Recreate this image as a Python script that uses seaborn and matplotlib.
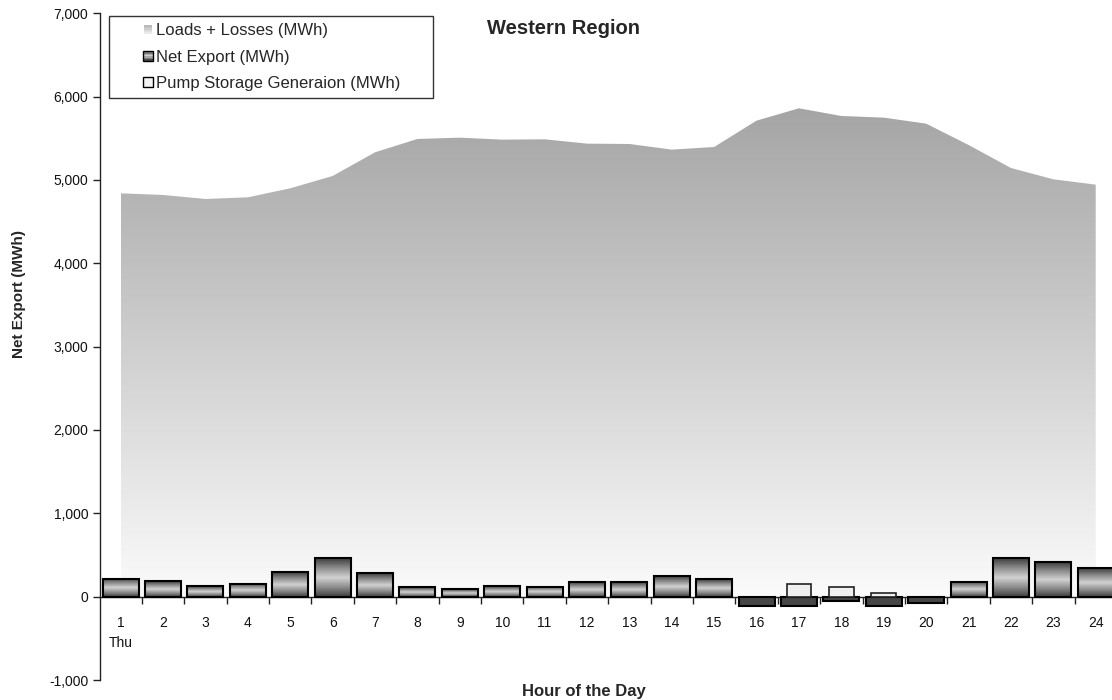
import numpy as np
import pandas as pd
import matplotlib
matplotlib.use("Agg")
import matplotlib.pyplot as plt
import seaborn as sns
from matplotlib.colors import LinearSegmentedColormap
from matplotlib.patches import Rectangle, Patch, Polygon
from matplotlib.legend_handler import HandlerBase
from matplotlib.ticker import FuncFormatter

# Hourly data, Western Region
hours = ["1", "2", "3", "4", "5", "6", "7", "8", "9", "10", "11", "12",
         "13", "14", "15", "16", "17", "18", "19", "20", "21", "22", "23", "24"]
loads_losses = [4840, 4820, 4772, 4792, 4900, 5048, 5332, 5492, 5508, 5484, 5488, 5436,
                5432, 5364, 5396, 5712, 5860, 5768, 5748, 5676, 5420, 5144, 5008, 4944]
net_export = [216, 188, 128, 156, 292, 464, 280, 112, 92, 124, 120, 176,
              172, 244, 212, -112, -112, -52, -112, -76, 180, 460, 416, 340]
pump_storage = [0, 0, 0, 0, 0, 0, 0, 0, 0, 0, 0, 0,
                0, 0, 0, 0, 156, 116, 40, 0, 0, 0, 0, 0]
y_ticks = [-1000, 0, 1000, 2000, 3000, 4000, 5000, 6000, 7000]
day_name = "Thu"

sns.set_theme(style="ticks")
plt.rcParams["font.family"] = ["Liberation Sans", "DejaVu Sans"]

df = pd.DataFrame({"hour": hours, "load": loads_losses,
                   "net": net_export, "pump": pump_storage})

fig = plt.figure(figsize=(11.12, 7.0), dpi=100)
ax = fig.add_axes([99.5 / 1112, 20 / 700, 1017.4 / 1112, 666.7 / 700])

area_cmap = LinearSegmentedColormap.from_list("area", ["#fbfbfb", "#a5a5a5"])
bar_cmap = LinearSegmentedColormap.from_list(
    "bar", ["#3c3c3c", "#8c8c8c", "#d2d2d2", "#8c8c8c", "#3c3c3c"])

# Loads + Losses area with a vertical grey gradient
xpos = np.arange(len(hours))
verts = [(xpos[0], 0)] + list(zip(xpos, df["load"])) + [(xpos[-1], 0)]
area = Polygon(verts, closed=True, facecolor="none", edgecolor="none", zorder=1)
ax.add_patch(area)
grad = np.linspace(0, 1, 256).reshape(-1, 1)
im = ax.imshow(grad, extent=(xpos[0], xpos[-1], 0, max(loads_losses)), origin="lower",
               cmap=area_cmap, aspect="auto", zorder=1, interpolation="bilinear")
im.set_clip_path(area)

# Net export bars
sns.barplot(data=df, x="hour", y="net", width=0.85, color="#464646", saturation=1,
            edgecolor="black", linewidth=1.5, errorbar=None, ax=ax, zorder=3)
for rect in ax.containers[0]:
    h = rect.get_height()
    if h > 0:
        x0 = rect.get_x()
        w = rect.get_width()
        rect.set_facecolor("none")
        bim = ax.imshow(grad, extent=(x0, x0 + w, 0, h), origin="lower", cmap=bar_cmap,
                        aspect="auto", zorder=2.9, interpolation="bilinear")
        bim.set_clip_path(rect)

# Pump storage generation bars
sns.barplot(data=df, x="hour", y="pump", width=0.58, color="#f0f0f0", saturation=1,
            edgecolor="#222222", linewidth=1.2, errorbar=None, ax=ax, zorder=4)
for rect in ax.containers[1]:
    if rect.get_height() == 0:
        rect.set_visible(False)

ax.set_xlim(-0.5, len(hours) - 0.5)
ax.set_ylim(y_ticks[0], y_ticks[-1])
ax.set_xlabel("")
ax.set_ylabel("")

# Axes styling
sns.despine(ax=ax)
ax.spines["bottom"].set_position(("data", 0))
for side in ("left", "bottom"):
    ax.spines[side].set_linewidth(1.0)
    ax.spines[side].set_color("#222222")

xlabels = list(hours)
xlabels[0] = hours[0] + "\n" + day_name
ax.set_xticks(xpos)
ax.set_xticklabels(xlabels, linespacing=1.5)
ax.set_xticks(xpos[:-1] + 0.5, minor=True)
ax.tick_params(axis="x", which="major", length=0, pad=14, labelsize=10, colors="#111111")
ax.tick_params(axis="x", which="minor", bottom=True, length=5, width=1, direction="out",
               color="#222222")
ax.set_yticks(y_ticks)
ax.yaxis.set_major_formatter(FuncFormatter(lambda v, p: f"{v:,.0f}"))
ax.tick_params(axis="y", left=True, length=5, width=1, direction="out", pad=3,
               labelsize=10, colors="#222222", labelcolor="#111111")


class SquareHandler(HandlerBase):
    """Small square legend key, optionally with a vertical grey gradient."""

    def __init__(self, colors, edgecolor=None, size=7.5, offset=0.0):
        super().__init__()
        self.colors = colors
        self.edgecolor = edgecolor
        self.size = size
        self.offset = offset

    def create_artists(self, legend, orig_handle, xdescent, ydescent, width, height,
                       fontsize, trans):
        s = self.size
        x0 = -xdescent + width - s - self.offset
        y0 = -ydescent + (height - s) / 2
        arts = []
        n = len(self.colors)
        for i, c in enumerate(self.colors):
            r = Rectangle((x0, y0 + s * (n - 1 - i) / n), s, s / n, facecolor=c,
                          edgecolor="none", transform=trans)
            arts.append(r)
        if self.edgecolor:
            arts.append(Rectangle((x0, y0), s, s, facecolor="none",
                                  edgecolor=self.edgecolor, linewidth=1.0,
                                  transform=trans))
        return arts


h_load = Patch(label="Loads + Losses (MWh)")
h_net = Patch(label="Net Export (MWh)")
h_pump = Patch(label="Pump Storage Generaion (MWh)")
load_cols = [area_cmap(v) for v in np.linspace(0.75, 0.2, 6)]
net_cols = [bar_cmap(v) for v in np.linspace(0.05, 0.95, 7)]
leg = ax.legend(handles=[h_load, h_net, h_pump],
                handler_map={h_load: SquareHandler(load_cols, None, 6.0, 0.5),
                             h_net: SquareHandler(net_cols, "black", 7.5),
                             h_pump: SquareHandler(["#f4f4f4"], "black", 7.5)},
                loc="upper left", bbox_to_anchor=(0.0093, 0.9964, 0.3185, 0.0),
                mode="expand", borderaxespad=0,
                frameon=True, fancybox=False, framealpha=1, edgecolor="#333333",
                fontsize=12, handlelength=2.2, handleheight=0.8, handletextpad=0.2,
                labelspacing=0.66, borderpad=0.45)
leg.get_frame().set_linewidth(1.0)
leg.set_zorder(10)

fig.text(0.507, 0.959, "Western Region", ha="center", va="center",
         fontsize=14.5, fontweight="bold")
fig.text(0.5247, 0.012, "Hour of the Day", ha="center", va="center",
         fontsize=12, fontweight="bold")
fig.text(0.0175, 0.58, "Net Export (MWh)", ha="center", va="center", rotation=90,
         fontsize=11, fontweight="bold")

fig.savefig("out.png", dpi=100)
